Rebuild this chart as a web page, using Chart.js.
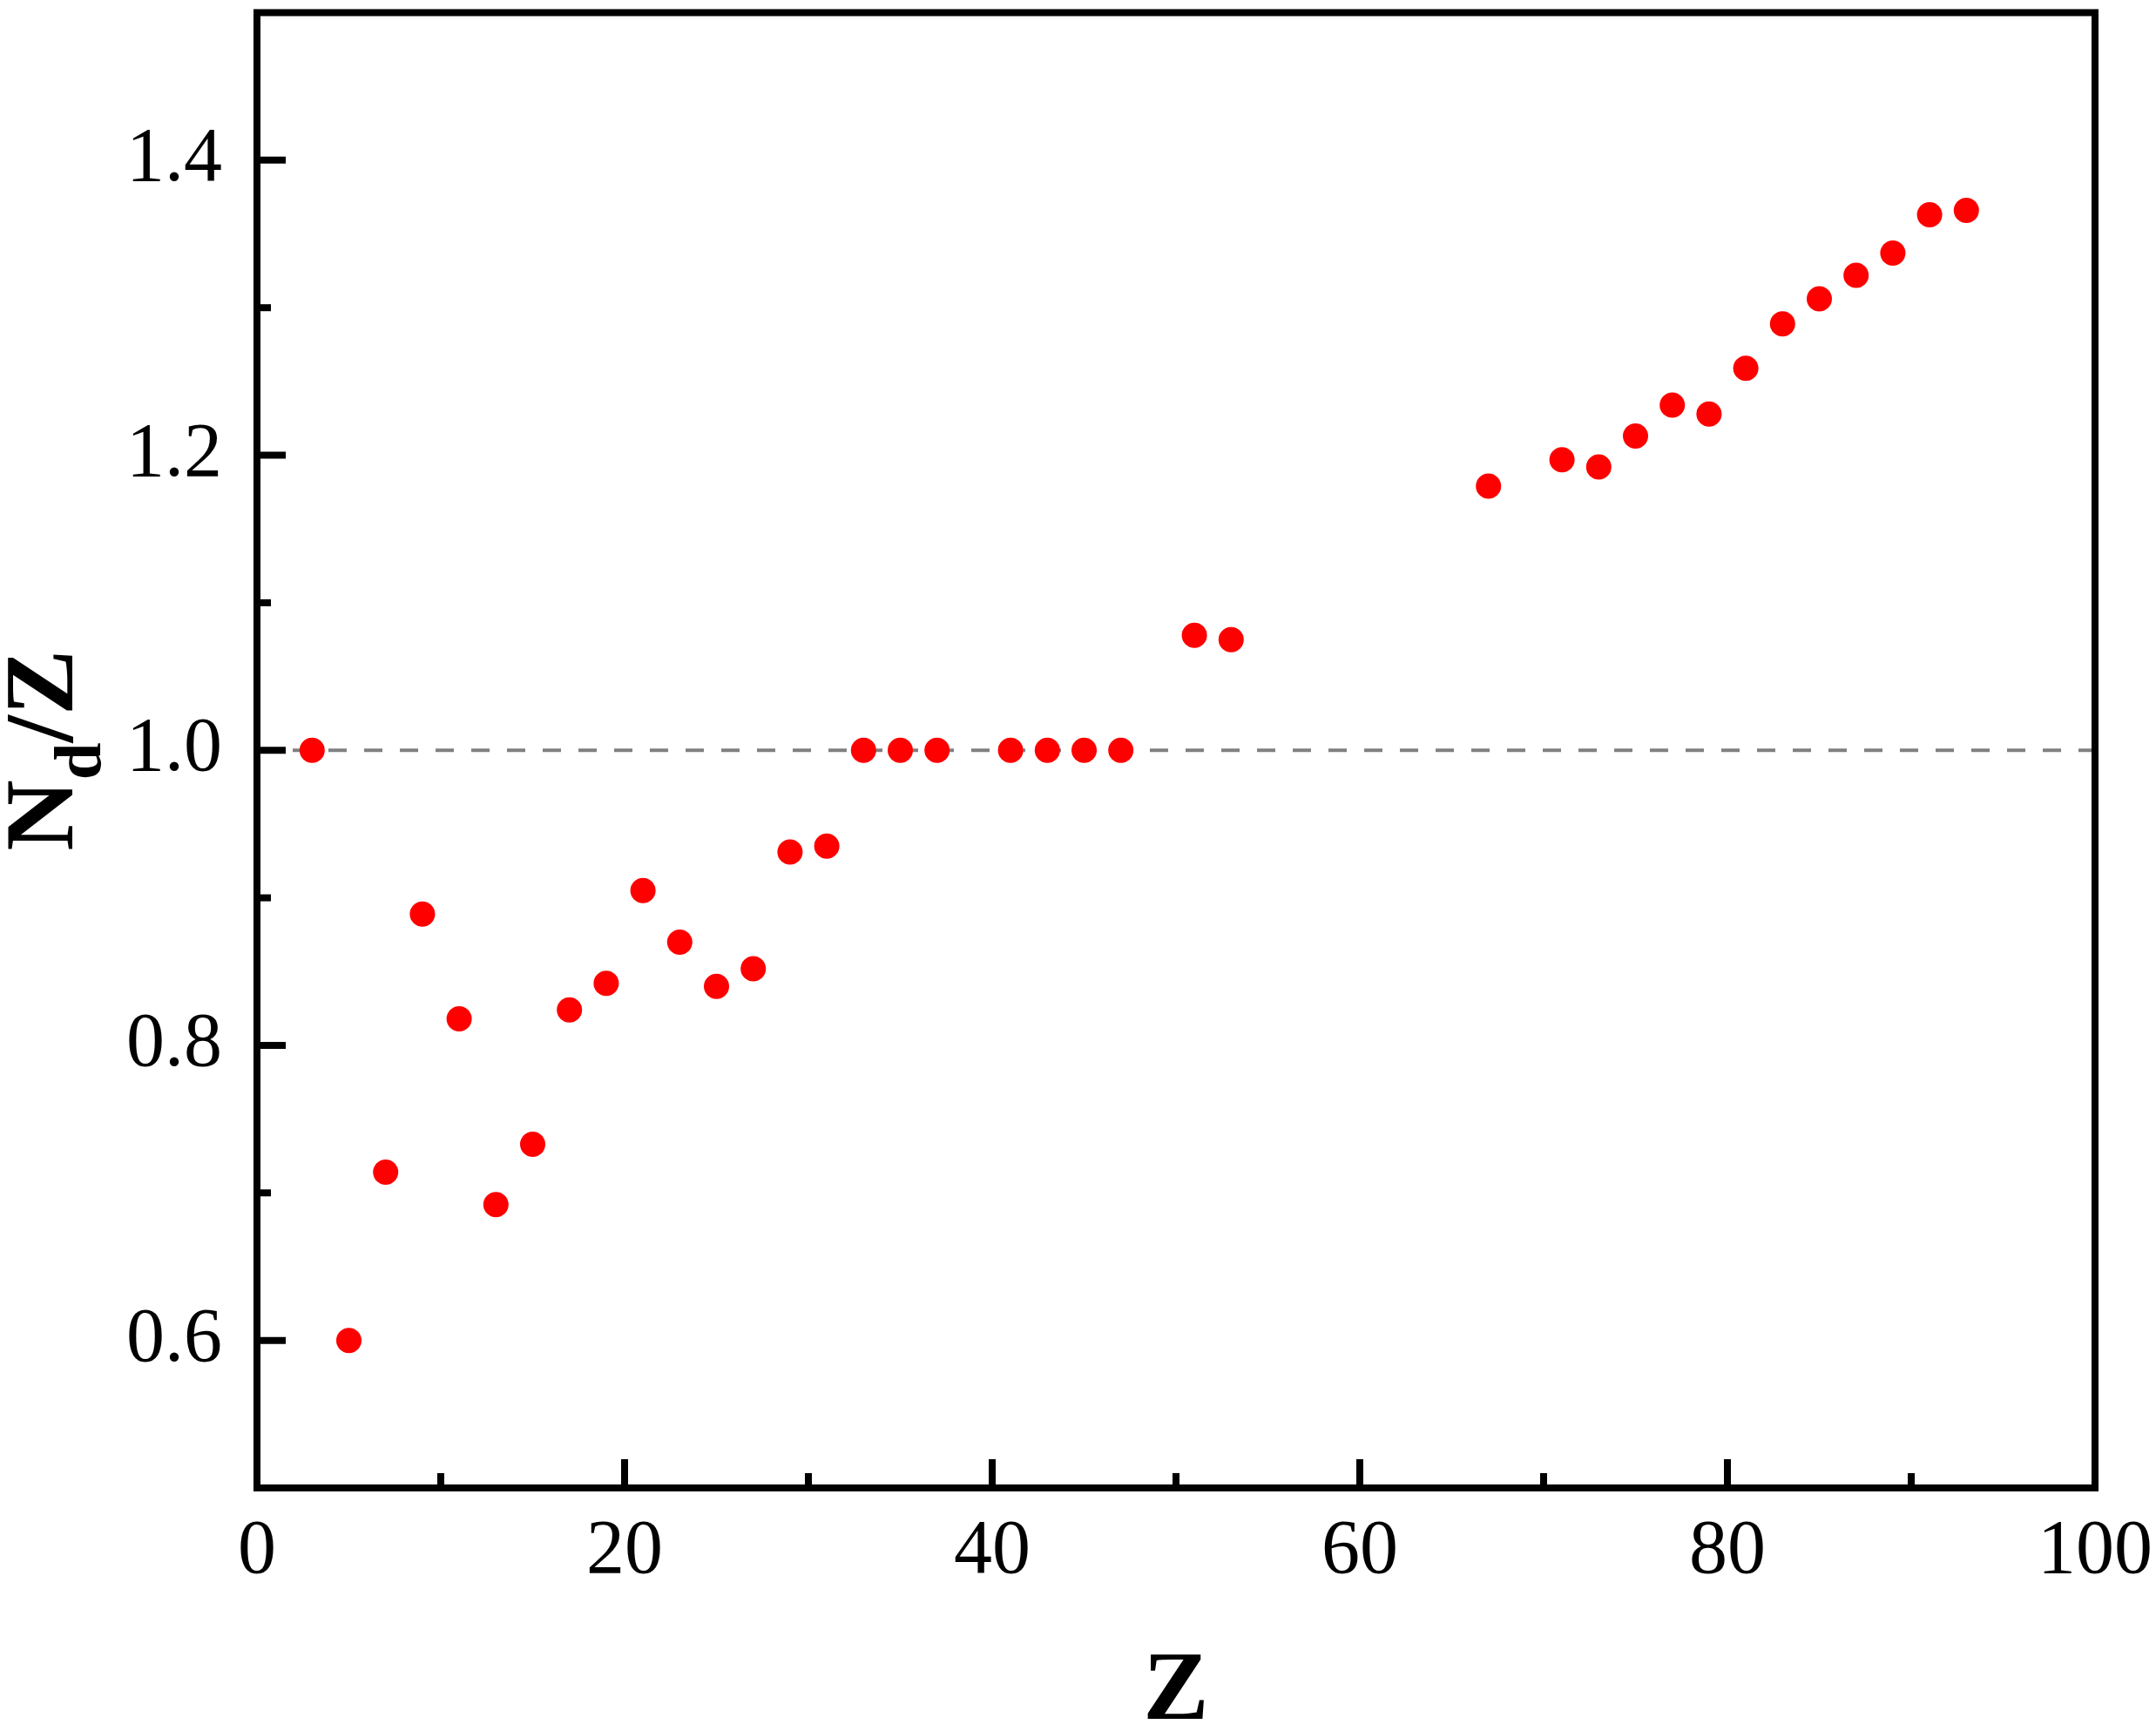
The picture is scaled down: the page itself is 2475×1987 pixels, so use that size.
<!DOCTYPE html>
<html>
<head>
<meta charset="utf-8">
<script src="https://cdn.jsdelivr.net/npm/chart.js@4"></script>
<style>
  html, body { margin: 0; padding: 0; background: #ffffff; }
  #wrap { width: 2475px; height: 1987px; }
</style>
</head>
<body>
<div id="wrap"><canvas id="c" width="2475" height="1987"></canvas></div>
<script>
// ---- data ----
const zValues = [3, 5, 7, 9, 11, 13, 15, 17, 19, 21, 23, 25, 27, 29, 31, 33, 35, 37,
                 41, 43, 45, 47, 51, 53, 67, 71, 73, 75, 77, 79, 81, 83, 85, 87, 89, 91, 93];
const ratioValues = [1.000, 0.600, 0.714, 0.889, 0.818, 0.692, 0.733, 0.824, 0.842, 0.905,
                     0.870, 0.840, 0.852, 0.931, 0.935, 1.000, 1.000, 1.000,
                     1.000, 1.000, 1.000, 1.000, 1.078, 1.075, 1.179, 1.197, 1.192, 1.213,
                     1.234, 1.228, 1.259, 1.289, 1.306, 1.322, 1.337, 1.363, 1.366];
const refLineX = [0, 100];
const refLineY = [1.0, 1.0];
const xTickLabels = [0, 20, 40, 60, 80, 100];
const yTickLabels = ['0.6', '0.8', '1.0', '1.2', '1.4'];

const SERIF = '"Liberation Serif", "Times New Roman", serif';

const scatterPoints = zValues.map((z, i) => ({ x: z, y: ratioValues[i] }));
const refPoints = refLineX.map((x, i) => ({ x: x, y: refLineY[i] }));

function zeroPad(scale) {
  scale.paddingTop = 0;
  scale.paddingBottom = 0;
  scale.paddingLeft = 0;
  scale.paddingRight = 0;
}

const frameAndTicks = {
  id: 'frameAndTicks',
  afterDatasetsDraw(chart) {
    const ctx = chart.ctx;
    const a = chart.chartArea;
    const xs = chart.scales.x, ys = chart.scales.y;
    ctx.save();
    ctx.strokeStyle = '#000000';
    ctx.lineWidth = 8;
    ctx.lineCap = 'butt';
    xs.ticks.forEach(t => {
      const v = t.value;
      if (v <= xs.min || v >= xs.max) return;
      const px = xs.getPixelForValue(v);
      const major = xTickLabels.indexOf(v) !== -1;
      const len = major ? 33 : 17;
      ctx.beginPath();
      ctx.moveTo(px, a.bottom);
      ctx.lineTo(px, a.bottom - len);
      ctx.stroke();
    });
    ys.ticks.forEach(t => {
      const v = t.value;
      if (v <= ys.min + 1e-9 || v >= ys.max - 1e-9) return;
      const py = ys.getPixelForValue(v);
      const major = yTickLabels.indexOf(v.toFixed(1)) !== -1;
      const len = major ? 33 : 16;
      ctx.beginPath();
      ctx.moveTo(a.left, py);
      ctx.lineTo(a.left + len, py);
      ctx.stroke();
    });
    ctx.lineJoin = 'miter';
    ctx.strokeRect(a.left, a.top, a.right - a.left, a.bottom - a.top);
    ctx.restore();
  },
  afterDraw(chart) {
    const ctx = chart.ctx;
    const a = chart.chartArea;
    const mainFont = 'bold 113px ' + SERIF;
    const subFont = 'bold 77px ' + SERIF;
    ctx.save();
    ctx.fillStyle = '#000000';
    ctx.textBaseline = 'alphabetic';
    ctx.textAlign = 'left';
    ctx.font = mainFont;
    const wN = ctx.measureText('N').width;
    const wRest = ctx.measureText('/Z').width;
    ctx.font = subFont;
    const wd = ctx.measureText('d').width;
    const total = wN + wd + wRest;
    const cy = (a.top + a.bottom) / 2;
    ctx.translate(83, cy);
    ctx.rotate(-Math.PI / 2);
    let u = -total / 2;
    ctx.font = mainFont;
    ctx.fillText('N', u, 0);
    u += wN;
    ctx.font = subFont;
    ctx.fillText('d', u, 32);
    u += wd;
    ctx.font = mainFont;
    ctx.fillText('/Z', u, 0);
    ctx.restore();
  }
};

new Chart(document.getElementById('c'), {
  type: 'scatter',
  data: {
    datasets: [
      {
        type: 'line',
        data: refPoints,
        borderColor: '#808080',
        borderWidth: 4,
        borderDash: [21, 20],
        pointRadius: 0,
        fill: false,
        order: 2
      },
      {
        type: 'scatter',
        data: scatterPoints,
        backgroundColor: '#ff0000',
        borderWidth: 0,
        pointRadius: 14.5,
        pointHoverRadius: 14.5,
        order: 1
      }
    ]
  },
  options: {
    responsive: false,
    devicePixelRatio: 1,
    animation: false,
    events: [],
    layout: { padding: { top: 9, right: 70, bottom: 0, left: 0 } },
    plugins: {
      legend: { display: false },
      tooltip: { enabled: false },
      title: { display: false }
    },
    scales: {
      x: {
        type: 'linear',
        min: 0,
        max: 100,
        grid: { display: false, drawTicks: false },
        border: { display: false },
        ticks: {
          stepSize: 10,
          autoSkip: false,
          maxRotation: 0,
          padding: 21,
          color: '#000000',
          font: { family: SERIF, size: 88 },
          callback: v => (xTickLabels.indexOf(v) !== -1 ? String(v) : '')
        },
        title: {
          display: true,
          text: 'Z',
          color: '#000000',
          font: { family: SERIF, size: 113, weight: 'bold', lineHeight: 0.76 },
          padding: 0
        },
        afterFit(scale) { scale.height = 279; zeroPad(scale); }
      },
      y: {
        type: 'linear',
        min: 0.5,
        max: 1.5,
        grid: { display: false, drawTicks: false },
        border: { display: false },
        ticks: {
          stepSize: 0.1,
          autoSkip: false,
          padding: 40,
          color: '#000000',
          font: { family: SERIF, size: 88 },
          callback: v => {
            const s = Number(v).toFixed(1);
            return yTickLabels.indexOf(s) !== -1 ? s : '';
          }
        },
        afterFit(scale) { scale.width = 295; zeroPad(scale); }
      }
    }
  },
  plugins: [frameAndTicks]
});
</script>
</body>
</html>
